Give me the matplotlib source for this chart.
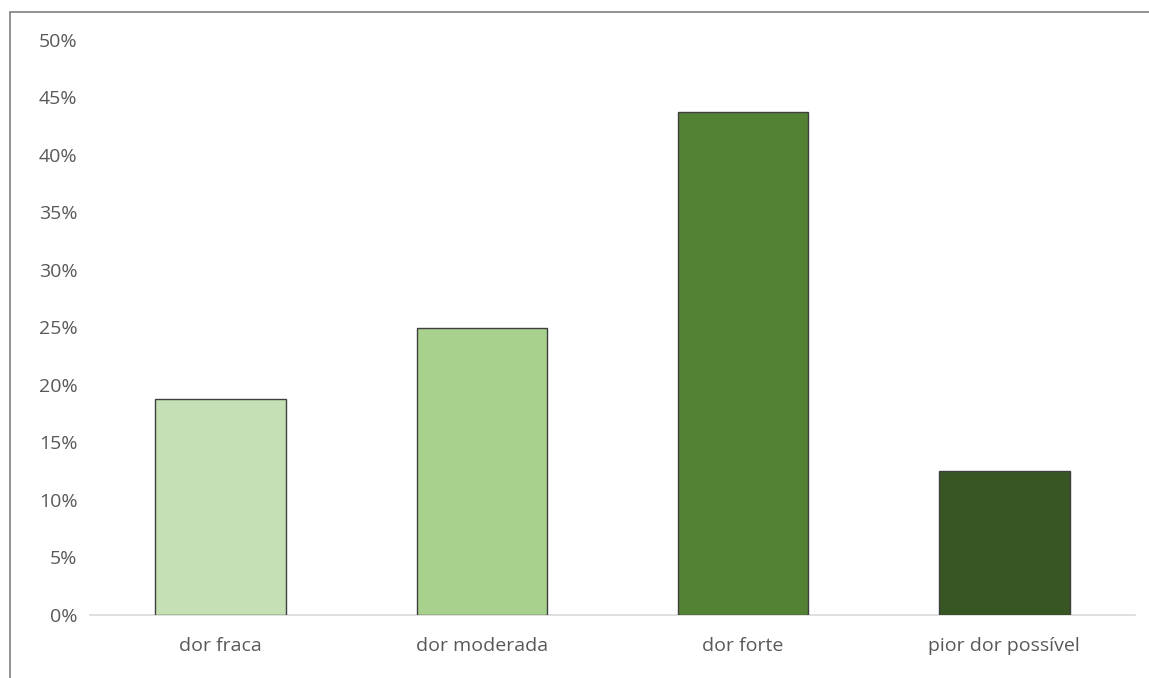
import matplotlib.pyplot as plt
from matplotlib.patches import Rectangle
from matplotlib.ticker import MultipleLocator, PercentFormatter

categorias = ['dor fraca', 'dor moderada', 'dor forte', 'pior dor possível']
valores = [0.1875, 0.25, 0.4375, 0.125]
cores = ['#C5E0B4', '#A9D18E', '#548235', '#375623']

plt.rcParams['font.family'] = ['Open Sans', 'DejaVu Sans']

W, H = 1149, 678
fig = plt.figure(figsize=(W / 100, H / 100), dpi=100)
ax = fig.add_axes([90 / W, 1 - 615 / H, (1135 - 90) / W, (615 - 40) / H])

# moldura do gráfico (cortada à direita e embaixo)
fig.patches.append(Rectangle((10 / W, -0.1), 1.2, 1 - 12 / H + 0.1,
                             transform=fig.transFigure, fill=False,
                             edgecolor='#7f7f7f', linewidth=1.2))

x = range(len(categorias))
ax.bar(x, valores, width=0.5, color=cores, edgecolor='#3f3f3f', linewidth=1.0, zorder=3)

ax.set_xlim(-0.5, len(categorias) - 0.5)
ax.set_ylim(0, 0.5)
ax.yaxis.set_major_locator(MultipleLocator(0.05))
ax.yaxis.set_major_formatter(PercentFormatter(1.0, decimals=0))
ax.set_xticks(list(x))
ax.set_xticklabels(categorias)

for s in ['top', 'right', 'left']:
    ax.spines[s].set_visible(False)
ax.spines['bottom'].set_color('#d9d9d9')
ax.spines['bottom'].set_linewidth(1.2)
ax.tick_params(axis='both', length=0, colors='#595959', labelsize=14)
ax.tick_params(axis='y', pad=9)
ax.tick_params(axis='x', pad=15.5)

fig.savefig('out.png', dpi=100)
